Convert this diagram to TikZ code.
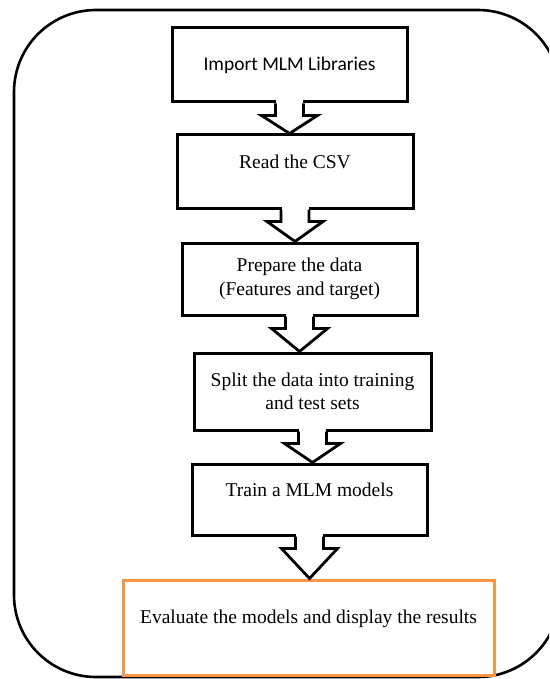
\documentclass[tikz,border=0pt]{standalone}
\usepackage{fontspec}
\setmainfont{Liberation Serif}
\newfontfamily\calibrifont{Carlito}
\usetikzlibrary{calc}

\definecolor{boxorange}{HTML}{F79646}

\tikzset{
  stepbox/.style={draw=black,line width=3pt,fill=white,inner sep=2pt,
    align=center,font=\fontsize{19.5}{23.5}\selectfont},
  oneline/.style={text height=13pt,text depth=19pt}
}

% block arrow hanging under node #1, tip on top of node #2
\newcommand{\flowarrow}[2]{%
  \fill[white] ($(#1.south)+(-13.5pt,3pt)$) rectangle ($(#1.south)+(13.5pt,-6pt)$);
  \draw[line width=2.8pt,line join=miter]
    ($(#1.south)+(-14pt,0)$) -- ++(0,-12pt) -- ++(-14pt,0) -- (#1.south |- #2.north)
    -- ($(#1.south)+(28pt,-12pt)$) -- ++(-14pt,0) -- ++(0,12pt);
}

\begin{document}
\begin{tikzpicture}[x=1pt,y=-1pt]
            \useasboundingbox (0,0) rectangle (549,679);
            \clip (0,0) rectangle (549,679);

            % outer frame
            \draw[line width=2.6pt,rounded corners=82pt] (14,10) rectangle (560,677);

            \node[stepbox,minimum width=235pt,minimum height=74pt,font=\calibrifont\fontsize{19.5}{23.5}\selectfont]
              (import) at (289.5,65) {Import MLM Libraries};
            \node[stepbox,oneline,minimum width=236pt,minimum height=73pt]
              (read) at (295,171.5) {Read the CSV};
            \node[stepbox,minimum width=235pt,minimum height=72pt]
              (prepare) at (299.5,279) {Prepare the data\\(Features and target)};
            \node[stepbox,minimum width=237pt,minimum height=77pt]
              (split) at (312.5,391.5) {Split the data into training\\and test sets};
            \node[stepbox,oneline,minimum width=235pt,minimum height=71pt]
              (train) at (309.5,499.5) {Train a MLM models};
            \node[stepbox,oneline,draw=boxorange,text depth=21pt,minimum width=371pt,minimum height=95pt]
              (evaluate) at (308.5,627.5) {Evaluate the models and display the results};

            \flowarrow{import}{read}
            \flowarrow{read}{prepare}
            \flowarrow{prepare}{split}
            \flowarrow{split}{train}
            \flowarrow{train}{evaluate}
        \end{tikzpicture}
\end{document}
